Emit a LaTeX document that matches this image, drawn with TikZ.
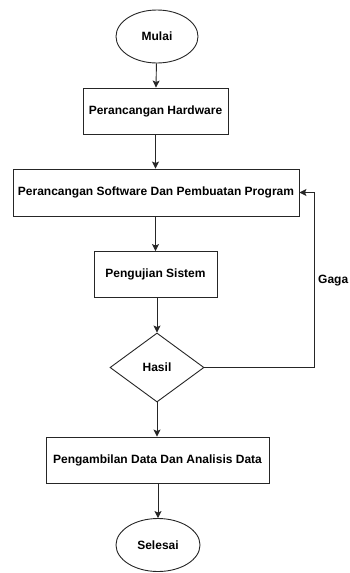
\documentclass[tikz,border=0pt]{standalone}
\usepackage{fontspec}
\setmainfont{Liberation Sans}
\usetikzlibrary{shapes.geometric,arrows.meta}
\begin{document}
\begin{tikzpicture}[x=1pt,y=-1pt,
  base/.style={draw=black!85,line width=0.9pt,font=\fontsize{12}{14}\selectfont\bfseries,inner sep=0pt,fill=white},
  term/.style={base,ellipse,minimum width=82pt,minimum height=53pt},
  proc/.style={base,rectangle,minimum height=46pt},
  dec/.style={base,diamond,minimum width=94pt,minimum height=69pt},
  conn/.style={draw=black!85,line width=0.9pt,-{Stealth[length=7pt,width=7pt,inset=1.5pt]}}]
\useasboundingbox (0,0) rectangle (350,573);
\node[term] (mulai) at (157,36.5) {Mulai};
\node[proc,minimum width=145pt] (hw) at (155.5,111) {Perancangan Hardware};
\node[proc,minimum width=286pt,minimum height=47pt] (sw) at (156,192.5) {Perancangan Software Dan Pembuatan Program};
\node[proc,minimum width=123pt] (uji) at (155.5,274.5) {Pengujian Sistem};
\node[dec] (hasil) at (157,367.5) {Hasil};
\node[proc,minimum width=223pt] (ambil) at (157.5,460) {Pengambilan Data Dan Analisis Data};
\node[term,minimum width=84pt] (selesai) at (158,545) {Selesai};
\coordinate (c1) at (314,367.5);
\coordinate (c2) at (314,192.5);
\draw[conn] (mulai) -- (hw);
\draw[conn] (hw) -- (hw|-sw.north);
\draw[conn] (sw.south-|uji) -- (uji);
\draw[conn] (uji.south-|hasil) -- (hasil);
\draw[conn] (hasil) -- (hasil|-ambil.north);
\draw[conn] (ambil.south-|selesai) -- (selesai);
\draw[conn] (hasil.east) -- (c1) -- (c2) -- (sw.east);
\node[font=\fontsize{12}{14}\selectfont\bfseries,anchor=west,inner sep=0pt] (gagal) at (318,280.5) {Gaga};
\end{tikzpicture}
\end{document}
